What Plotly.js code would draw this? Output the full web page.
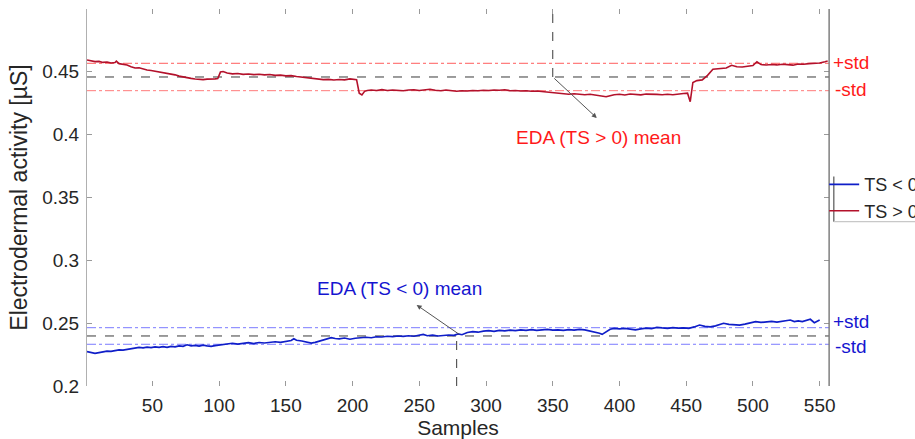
<!DOCTYPE html>
<html>
<head>
<meta charset="utf-8">
<script src="https://cdn.plot.ly/plotly-3.0.1.min.js"></script>
<style>html,body{margin:0;padding:0;background:#fff;}#chart{width:915px;height:439px;}</style>
</head>
<body>
<div id="chart"></div>
<script>
// ---- data ----
const redSamples = [1,4,7,10,13,16,19,22,23,25,28,31,34,37,40,43,46,49,52,55,58,61,64,67,70,73,76,79,82,85,88,91,94,97,99,101,103,106,110,114,118,122,126,130,134,138,142,146,150,154,158,162,166,170,174,178,182,186,190,194,198,201,203,205,207,209,211,214,218,222,226,230,234,238,242,246,250,254,258,262,266,270,274,278,282,286,290,294,298,302,306,310,314,318,322,326,330,334,338,342,346,350,354,358,362,366,370,374,378,382,386,390,393,396,400,404,408,412,416,420,424,428,432,436,440,444,448,451,453,455,458,462,466,470,473,476,480,484,488,492,496,500,503,506,510,514,518,522,526,530,534,538,542,546,550,554,556];
const redEDA = [0.4594,0.4588,0.4581,0.4583,0.4575,0.4578,0.4570,0.4574,0.4585,0.4565,0.4560,0.4555,0.4541,0.4530,0.4532,0.4522,0.4515,0.4510,0.4505,0.4498,0.4492,0.4486,0.4480,0.4476,0.4466,0.4458,0.4452,0.4448,0.4443,0.4440,0.4438,0.4442,0.4440,0.4444,0.4446,0.4498,0.4502,0.4490,0.4484,0.4487,0.4480,0.4483,0.4478,0.4481,0.4476,0.4479,0.4472,0.4474,0.4468,0.4470,0.4463,0.4458,0.4452,0.4446,0.4442,0.4438,0.4440,0.4435,0.4439,0.4436,0.4444,0.4440,0.4438,0.4330,0.4316,0.4345,0.4352,0.4355,0.4352,0.4358,0.4352,0.4356,0.4354,0.4349,0.4355,0.4358,0.4352,0.4357,0.4361,0.4353,0.4349,0.4355,0.4350,0.4346,0.4350,0.4347,0.4352,0.4349,0.4354,0.4351,0.4356,0.4353,0.4357,0.4350,0.4352,0.4347,0.4350,0.4346,0.4348,0.4343,0.4339,0.4333,0.4328,0.4325,0.4322,0.4326,0.4320,0.4318,0.4322,0.4316,0.4314,0.4302,0.4310,0.4318,0.4322,0.4316,0.4324,0.4320,0.4317,0.4323,0.4319,0.4321,0.4318,0.4322,0.4318,0.4325,0.4327,0.4330,0.4262,0.4415,0.4430,0.4436,0.4472,0.4520,0.4522,0.4525,0.4530,0.4552,0.4540,0.4538,0.4544,0.4550,0.4580,0.4558,0.4554,0.4558,0.4555,0.4560,0.4557,0.4553,0.4562,0.4560,0.4565,0.4566,0.4570,0.4580,0.4586];

const blueSamples = [1,4,7,10,13,16,19,22,25,28,31,34,37,40,43,46,49,52,55,58,61,64,67,70,73,76,79,82,85,88,91,94,97,100,103,106,110,114,118,122,126,130,134,138,142,146,150,154,156,158,162,166,169,172,175,178,181,184,187,190,194,198,202,206,210,214,218,222,226,230,234,238,242,246,250,253,256,260,264,268,272,276,279,282,286,290,294,298,302,306,310,314,318,322,326,330,334,338,342,346,350,354,358,362,366,370,374,378,382,385,387,390,393,396,400,404,408,412,416,420,424,428,432,436,440,444,448,452,456,460,464,468,472,476,478,482,486,490,494,498,502,506,510,514,518,522,526,528,531,534,537,540,543,546,548,550];
const blueEDA = [0.2273,0.2265,0.2260,0.2266,0.2272,0.2278,0.2275,0.2284,0.2288,0.2286,0.2292,0.2298,0.2302,0.2308,0.2304,0.2310,0.2306,0.2312,0.2307,0.2313,0.2308,0.2315,0.2312,0.2319,0.2316,0.2328,0.2320,0.2323,0.2318,0.2325,0.2320,0.2316,0.2322,0.2326,0.2331,0.2336,0.2340,0.2334,0.2341,0.2345,0.2338,0.2346,0.2342,0.2349,0.2352,0.2348,0.2356,0.2362,0.2376,0.2364,0.2358,0.2350,0.2342,0.2347,0.2356,0.2362,0.2370,0.2384,0.2378,0.2375,0.2382,0.2372,0.2380,0.2386,0.2388,0.2384,0.2392,0.2390,0.2396,0.2393,0.2398,0.2395,0.2400,0.2396,0.2404,0.2411,0.2400,0.2404,0.2398,0.2402,0.2406,0.2403,0.2414,0.2408,0.2426,0.2432,0.2428,0.2437,0.2440,0.2434,0.2442,0.2438,0.2445,0.2441,0.2447,0.2443,0.2448,0.2442,0.2446,0.2450,0.2444,0.2447,0.2442,0.2448,0.2445,0.2450,0.2446,0.2438,0.2430,0.2420,0.2411,0.2432,0.2452,0.2459,0.2454,0.2458,0.2452,0.2446,0.2455,0.2460,0.2456,0.2467,0.2462,0.2458,0.2464,0.2460,0.2463,0.2459,0.2470,0.2485,0.2474,0.2470,0.2478,0.2490,0.2499,0.2490,0.2486,0.2485,0.2493,0.2505,0.2512,0.2506,0.2510,0.2514,0.2509,0.2516,0.2520,0.2525,0.2512,0.2518,0.2513,0.2522,0.2531,0.2504,0.2515,0.2525];

const redMean = 0.4459, redStd = 0.0109;
const blueMean = 0.2398, blueStd = 0.0066;
const redMarkSample = 350, blueMarkSample = 278;
const seriesNames = ['TS < 0', 'TS > 0'];
const xTicks = [50,100,150,200,250,300,350,400,450,500,550];
const yTicks = [0.2,0.25,0.3,0.35,0.4,0.45];
const yTickText = ['0.2','0.25','0.3','0.35','0.4','0.45'];

// ---- styling ----
const FONT = 'Liberation Sans, Arial, Helvetica, sans-serif';
const RED = '#b3112b', BLUE = '#0f1ec8';
const TXT = '#262626';

const traces = [
  {x: blueSamples, y: blueEDA, type: 'scatter', mode: 'lines', name: seriesNames[0],
   line: {color: BLUE, width: 1.7}},
  {x: redSamples, y: redEDA, type: 'scatter', mode: 'lines', name: seriesNames[1],
   line: {color: RED, width: 1.6}}
];

function hline(y, color, dash, width) {
  return {type: 'line', xref: 'paper', x0: 0, x1: 1, yref: 'y', y0: y, y1: y,
          line: {color: color, dash: dash, width: width}, layer: 'below'};
}

// legend frame (reference shows only a dark left edge and a light bottom edge)
const LEG_X0 = 1.0065, LEG_Y0 = 0.436, LEG_Y1 = 0.556;

const shapes = [
  hline(redMean, '#3a3a3a', 'dash', 1),
  hline(redMean + redStd, '#ff5c5c', 'dashdot', 1),
  hline(redMean - redStd, '#ff7a7a', 'dashdot', 1),
  hline(blueMean, '#3a3a3a', 'dash', 1),
  hline(blueMean + blueStd, '#7b7bff', 'dashdot', 1),
  hline(blueMean - blueStd, '#7b7bff', 'dashdot', 1),
  {type: 'line', xref: 'x', x0: redMarkSample, x1: redMarkSample, yref: 'y', y0: redMean, y1: 0.5,
   line: {color: '#3a3a3a', dash: 'dash', width: 1}},
  {type: 'line', xref: 'x', x0: blueMarkSample, x1: blueMarkSample, yref: 'y', y0: 0.2, y1: blueMean,
   line: {color: '#3a3a3a', dash: 'dash', width: 1}},
  {type: 'line', xref: 'paper', x0: 1, x1: 1, yref: 'paper', y0: 0, y1: 1,
   line: {color: '#7a7a7a', width: 1.2}},
  {type: 'line', xref: 'paper', x0: LEG_X0, x1: LEG_X0, yref: 'paper', y0: LEG_Y0, y1: LEG_Y1,
   line: {color: '#555', width: 1.2}},
  {type: 'line', xref: 'paper', x0: LEG_X0, x1: 1.2, yref: 'paper', y0: LEG_Y0, y1: LEG_Y0,
   line: {color: '#c8c8c8', width: 1.2}}
];

const annotations = [
  {x: 383, y: 0.4133, xref: 'x', yref: 'y', ax: redMarkSample, ay: redMean, axref: 'x', ayref: 'y',
   text: '', showarrow: true, arrowhead: 2, arrowsize: 1, arrowwidth: 1, arrowcolor: '#555', standoff: 0},
  {x: 384, y: 0.398, xref: 'x', yref: 'y', text: 'EDA (TS > 0) mean', showarrow: false,
   font: {family: FONT, size: 19, color: '#ff1a1a'}},
  {x: 248, y: 0.2645, xref: 'x', yref: 'y', ax: 281, ay: 0.2403, axref: 'x', ayref: 'y',
   text: '', showarrow: true, arrowhead: 2, arrowsize: 1, arrowwidth: 1, arrowcolor: '#555', standoff: 0},
  {x: 235.5, y: 0.2772, xref: 'x', yref: 'y', text: 'EDA (TS < 0) mean', showarrow: false,
   font: {family: FONT, size: 19, color: '#1515d0'}},
  {x: 1, xref: 'paper', y: 0.4578, yref: 'y', text: '+std', showarrow: false, xanchor: 'left', xshift: 2,
   font: {family: FONT, size: 19, color: '#ff1a1a'}},
  {x: 1, xref: 'paper', y: 0.4363, yref: 'y', text: '-std', showarrow: false, xanchor: 'left', xshift: 4,
   font: {family: FONT, size: 19, color: '#ff1a1a'}},
  {x: 1, xref: 'paper', y: 0.2517, yref: 'y', text: '+std', showarrow: false, xanchor: 'left', xshift: 2,
   font: {family: FONT, size: 19, color: '#1515d0'}},
  {x: 1, xref: 'paper', y: 0.2318, yref: 'y', text: '-std', showarrow: false, xanchor: 'left', xshift: 4,
   font: {family: FONT, size: 19, color: '#1515d0'}}
];

const layout = {
  width: 915, height: 439,
  margin: {l: 87, r: 86, t: 9, b: 53, autoexpand: false},
  paper_bgcolor: '#fff', plot_bgcolor: '#fff',
  font: {family: FONT, color: TXT},
  showlegend: true,
  legend: {x: 0.9935, y: 0.583, xanchor: 'left', yanchor: 'top',
           bgcolor: 'rgba(0,0,0,0)', borderwidth: 0,
           font: {family: FONT, size: 18, color: TXT}, itemwidth: 30, tracegroupgap: 0},
  xaxis: {range: [1, 557], tickvals: xTicks, ticktext: xTicks.map(String),
          ticks: 'inside', ticklen: 5, tickcolor: '#9a9a9a', mirror: 'ticks',
          showline: false, showgrid: false, zeroline: false,
          tickfont: {family: FONT, size: 19, color: TXT}, ticklabelstandoff: 6,
          title: {text: 'Samples', font: {family: FONT, size: 21, color: TXT}, standoff: 0}},
  yaxis: {range: [0.2, 0.5], tickvals: yTicks, ticktext: yTickText,
          ticks: 'inside', ticklen: 5, tickcolor: '#9a9a9a', mirror: 'ticks',
          showline: true, linecolor: '#b0b0b0', linewidth: 1,
          showgrid: false, zeroline: false,
          tickfont: {family: FONT, size: 19, color: TXT}, ticklabelstandoff: 3,
          title: {text: 'Electrodermal activity [µS]', font: {family: FONT, size: 23, color: TXT}, standoff: 8}},
  shapes: shapes,
  annotations: annotations
};

Plotly.newPlot('chart', traces, layout, {displayModeBar: false, staticPlot: true});
</script>
</body>
</html>
